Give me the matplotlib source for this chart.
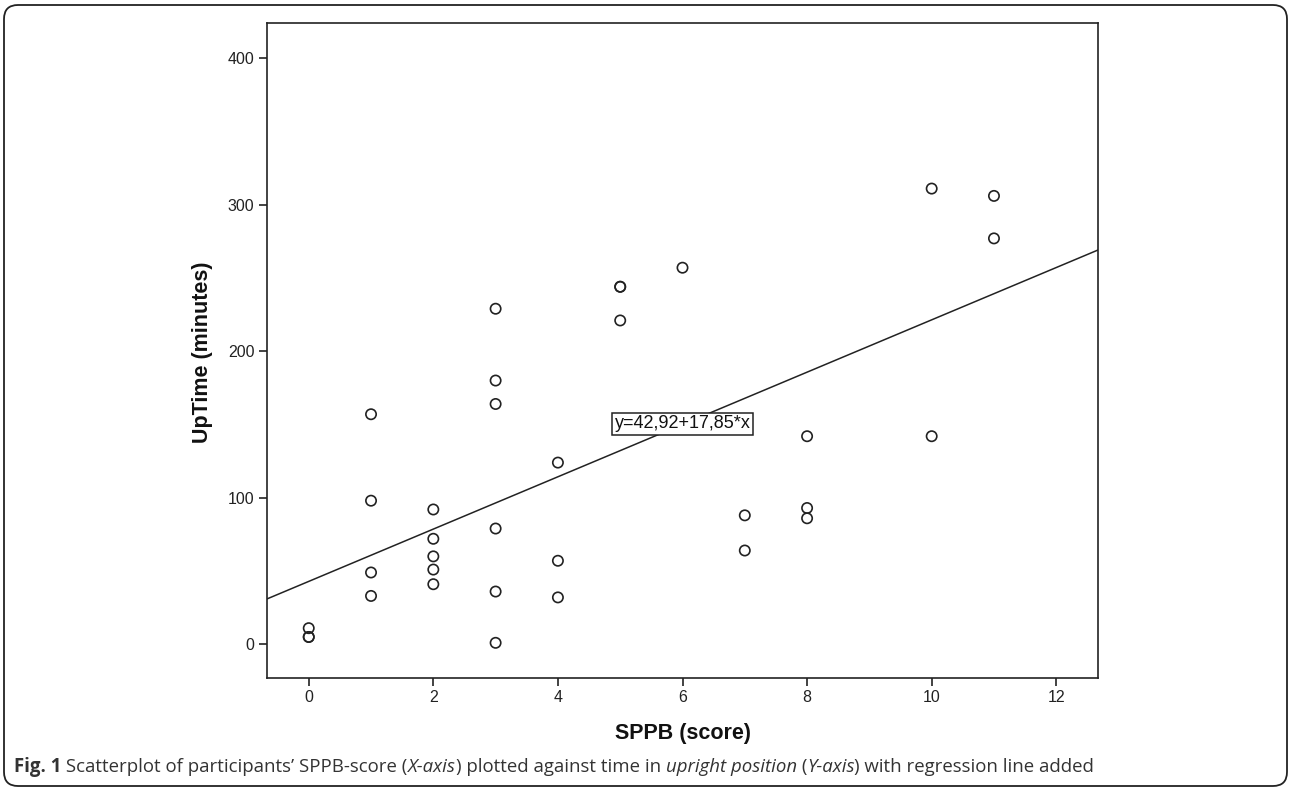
import matplotlib
matplotlib.use("Agg")
import matplotlib.pyplot as plt
from matplotlib.patches import FancyBboxPatch
from matplotlib.transforms import IdentityTransform
import numpy as np

# ---- data ----
sppb = [0, 0, 0, 1, 1, 1, 1, 2, 2, 2, 2, 2, 3, 3, 3, 3, 3, 3,
        4, 4, 4, 5, 5, 5, 6, 7, 7, 8, 8, 8, 10, 10, 11, 11]
uptime = [11, 5, 5, 157, 98, 49, 33, 92, 72, 60, 51, 41, 229, 180, 164, 79, 36, 1,
          124, 57, 32, 244, 244, 221, 257, 88, 64, 142, 93, 86, 311, 142, 306, 277]
intercept = 42.92
slope = 17.85
eq_label = "y=42,92+17,85*x"
x_ticks = [0, 2, 4, 6, 8, 10, 12]
y_ticks = [0, 100, 200, 300, 400]
x_label = "SPPB (score)"
y_label = "UpTime (minutes)"
caption_parts = [
    ("Fig. 1", "bold", "normal"),
    (" Scatterplot of participants\u2019 SPPB-score (", "normal", "normal"),
    ("X-axis", "normal", "italic"),
    (") plotted against time in ", "normal", "normal"),
    ("upright position", "normal", "italic"),
    (" (", "normal", "normal"),
    ("Y-axis", "normal", "italic"),
    (") with regression line added", "normal", "normal"),
]

W, H, DPI = 1290, 792, 100
fig = plt.figure(figsize=(W / DPI, H / DPI), dpi=DPI)
fig.patch.set_facecolor("white")

# rounded outer frame (pixel coordinates)
frame = FancyBboxPatch((4, 6), W - 4 - 3, H - 6 - 5,
                       boxstyle="round,pad=0,rounding_size=14",
                       transform=IdentityTransform(), fill=False,
                       edgecolor="#222222", linewidth=1.3)
fig.patches.append(frame)

ax = fig.add_axes([267 / W, 1 - 677.7 / H, (1098 - 267) / W, (677.7 - 23) / H])
font = "Liberation Sans"

xlim = (-0.67, 12.67)
ylim = (-22.8, 424)
ax.set_xlim(*xlim)
ax.set_ylim(*ylim)

# regression line across the full x-range
xl = np.array(xlim)
ax.plot(xl, intercept + slope * xl, color="#222222", linewidth=1.1, zorder=2)

ax.scatter(sppb, uptime, s=55, facecolors="none", edgecolors="#222222",
           linewidths=1.2, zorder=3)

ax.text(6.0, 150.4, eq_label, ha="center", va="center", family=font,
        fontsize=13, color="#111111", zorder=4,
        bbox=dict(boxstyle="square,pad=0.15", facecolor="white",
                  edgecolor="#222222", linewidth=1.1))

ax.set_xticks(x_ticks)
ax.set_yticks(y_ticks)
ax.set_xticklabels([str(v) for v in x_ticks], family=font, fontsize=11.5)
ax.set_yticklabels([str(v) for v in y_ticks], family=font, fontsize=11.5)
ax.tick_params(direction="out", length=6, width=1.2, color="#222222",
               labelcolor="#222222", pad=3)
for sp in ax.spines.values():
    sp.set_linewidth(1.2)
    sp.set_color("#222222")

fig.text(683 / W, 1 - 734 / H, x_label, ha="center", va="center",
         family=font, fontsize=15.5, fontweight="bold", color="#111111")
fig.text(202 / W, 1 - 352 / H, y_label, ha="center", va="center",
         rotation=90, family=font, fontsize=15.5, fontweight="bold",
         color="#111111")

# caption built from styled pieces
renderer = fig.canvas.get_renderer()
x_px = 14
y_px = H - 767
for txt, weight, style in caption_parts:
    t = fig.text(x_px / W, y_px / H, txt, ha="left", va="center",
                 family="Open Sans", fontsize=13.4, fontweight=weight,
                 fontstyle=style, color="#333333")
    bb = t.get_window_extent(renderer=renderer)
    x_px += bb.width

fig.savefig("out.png", dpi=DPI, facecolor="white")
